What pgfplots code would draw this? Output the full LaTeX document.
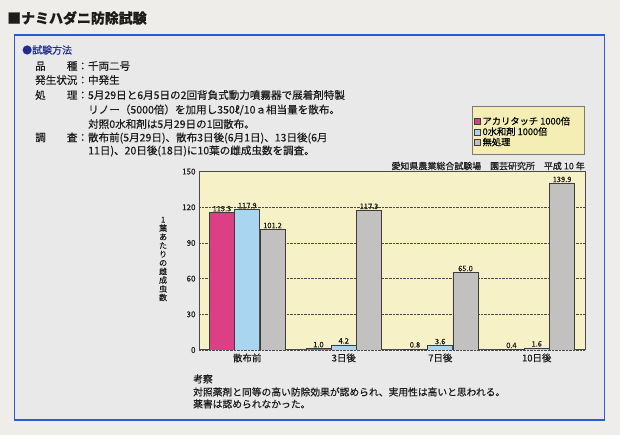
\documentclass[border=0pt]{standalone}
\usepackage{fontspec}
\setmainfont{Noto Sans CJK JP}[FakeBold=0.35]
\usepackage{pgfplots}
\pgfplotsset{compat=1.18}

\definecolor{pagebg}{HTML}{EFEDE9}
\definecolor{boxbg}{HTML}{E9E9E9}
\definecolor{boxline}{HTML}{2C5AD6}
\definecolor{navy}{HTML}{1E2D8F}
\definecolor{ink}{HTML}{1C1C1C}
\definecolor{plotbg}{HTML}{F6F1C6}
\definecolor{legbg}{HTML}{F4EEB4}
\definecolor{legline}{HTML}{7A7A7A}
\definecolor{barpink}{HTML}{DC3F86}
\definecolor{barblue}{HTML}{A9D5F0}
\definecolor{bargray}{HTML}{C3C0C0}
\definecolor{barline}{HTML}{3C3C3C}
\definecolor{frame}{HTML}{4A4A4A}

\newcommand{\lbl}[1]{\makebox[4em][s]{#1}}

\begin{document}
\begin{tikzpicture}[x=1bp,y=1bp]
\useasboundingbox (0,0) rectangle (620,435);
\fill[pagebg] (0,0) rectangle (620,435);
\draw[boxline, line width=1.6bp, fill=boxbg] (14.5,400) rectangle (604.5,15);

% heading and method text
\node[anchor=west, inner sep=0, text=ink, font=\fontsize{14}{16}\selectfont\bfseries] at (7,417) {■ナミハダニ防除試験};
\node[anchor=west, inner sep=0, text=navy, font=\fontsize{10}{12}\selectfont] at (22,385) {●試験方法};
\begin{scope}[every node/.style={anchor=west, inner sep=0, text=ink, font=\fontsize{10.6}{12}\selectfont}]
\node at (35,369) {\lbl{品\hfill 種}：千両二号};
\node at (35,355) {\lbl{発生状況}：中発生};
\node at (35,340) {\lbl{処\hfill 理}：5月29日と6月5日の2回背負式動力噴霧器で展着剤特製};
\node at (88,325) {リノー（5000倍）を加用し350ℓ/10ａ相当量を散布。};
\node at (88,311) {対照0水和剤は5月29日の1回散布。};
\node at (35,297) {\lbl{調\hfill 査}：散布前(5月29日)、散布3日後(6月1日)、13日後(6月};
\node at (88,284) {11日)、20日後(18日)に10葉の雌成虫数を調査。};
\end{scope}

% legend background
\draw[legline, fill=legbg, line width=0.8bp] (472.7,329) rectangle (584.7,280.7);

\node[anchor=east, inner sep=0, text=ink, font=\fontsize{9}{10}\selectfont] at (585,269) {愛知県農業総合試験場　園芸研究所　平成 10 年};

\begin{axis}[
    at={(199bp,85bp)}, anchor=south west,
    width=386bp, height=178.4bp, scale only axis,
    ybar, bar width=0.26,
    xmin=-0.5, xmax=3.5, ymin=0, ymax=150,
    xtick={0,1,2,3},
    xticklabels={散布前,3日後,7日後,10日後},
    ytick={0,30,60,90,120,150},
    /pgf/number format/assume math mode=true,
    yticklabel style={font=\fontsize{8}{9}\selectfont, text=ink},
    xticklabel style={font=\fontsize{9.5}{10}\selectfont, text=ink},
    major tick length=0pt,
    ymajorgrids,
    grid style={densely dotted, frame, line width=0.7bp},
    axis background/.style={fill=plotbg},
    axis line style={frame, line width=1bp},
    ylabel={1\\葉\\あ\\た\\り\\の\\雌\\成\\虫\\数},
    ylabel style={rotate=-90, align=center, text=ink,
        font=\fontsize{8}{8.7}\selectfont,
        at={(axis description cs:-0.093,0.51)}, anchor=center},
    nodes near coords,
    every node near coord/.append style={font=\fontsize{7.5}{8}\selectfont, text=ink,
        inner sep=1pt, /pgf/number format/fixed, /pgf/number format/fixed zerofill,
        /pgf/number format/precision=1},
    legend style={draw=none, fill=none, at={(axis description cs:0.7124,1.31)},
        anchor=north west, font=\fontsize{9.3}{10}\selectfont, inner sep=0pt,
        row sep=0.6bp, nodes={inner ysep=0.3bp, inner xsep=1.8bp}},
    legend cell align=left,
    legend image code/.code={\draw[#1, draw=barline, line width=0.6bp, bar shift=0pt] (0bp,-3bp) rectangle (6bp,3bp);},
]
\addplot[fill=barpink, draw=barline, line width=0.8bp, bar shift=-0.262] coordinates {
    (0,115.3) (1,1.0) (2,0.8) (3,0.4)
};
\addlegendentry{アカリタッチ 1000倍}
\addplot[fill=barblue, draw=barline, line width=0.8bp, bar shift=0] coordinates {
    (0,117.9) (1,4.2) (2,3.6) (3,1.6)
};
\addlegendentry{0水和剤 1000倍}
\addplot[fill=bargray, draw=barline, line width=0.8bp, bar shift=0.262] coordinates {
    (0,101.2) (1,117.3) (2,65.0) (3,139.9)
};
\addlegendentry{無処理}
\end{axis}

% discussion
\begin{scope}[every node/.style={anchor=west, inner sep=0, text=ink, font=\fontsize{9.8}{12}\selectfont}]
\node at (193,56) {考察};
\node at (193,43) {対照薬剤と同等の高い防除効果が認められ、実用性は高いと思われる。};
\node at (193,31) {薬害は認められなかった。};
\end{scope}
\end{tikzpicture}
\end{document}
